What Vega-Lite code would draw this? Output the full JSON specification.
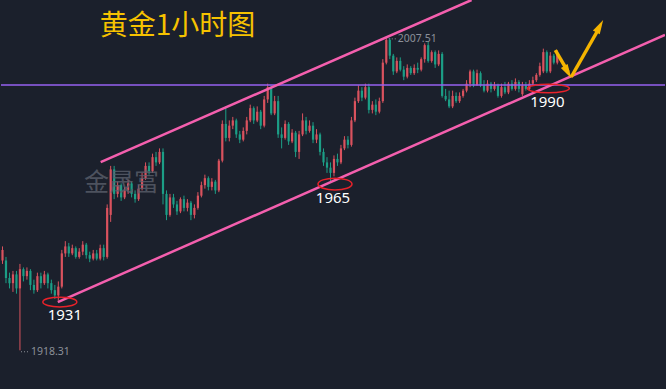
{
"$schema": "https://vega.github.io/schema/vega-lite/v6.json",
"width": 666, "height": 389,
"autosize": {"type": "fit", "contains": "padding"},
"padding": 0,
"background": "#1b202c",
"config": {"view": {"stroke": null}, "scale": {"continuousPadding": 0}},
"datasets": {
"candles": [
{"i":0,"o":1944,"h":1948,"l":1943,"c":1947},
{"i":1,"o":1944,"h":1945,"l":1937.5,"c":1939},
{"i":2,"o":1939,"h":1940.5,"l":1936,"c":1937.5},
{"i":3,"o":1937.5,"h":1941,"l":1935,"c":1940},
{"i":4,"o":1940,"h":1941,"l":1934.5,"c":1936},
{"i":5,"o":1936,"h":1943,"l":1918.31,"c":1941.5},
{"i":6,"o":1941.5,"h":1942,"l":1938,"c":1939.5},
{"i":7,"o":1939.5,"h":1942,"l":1938.5,"c":1941},
{"i":8,"o":1941,"h":1941.5,"l":1935.5,"c":1937},
{"i":9,"o":1937,"h":1938.5,"l":1934.5,"c":1935.5},
{"i":10,"o":1935.5,"h":1940.5,"l":1935,"c":1939.5},
{"i":11,"o":1939.5,"h":1940.5,"l":1936,"c":1937.5},
{"i":12,"o":1937.5,"h":1941,"l":1937,"c":1940},
{"i":13,"o":1940,"h":1940.5,"l":1936,"c":1937.5},
{"i":14,"o":1937.5,"h":1938.5,"l":1934.5,"c":1935.5},
{"i":15,"o":1935.5,"h":1937,"l":1933,"c":1934},
{"i":16,"o":1934,"h":1938,"l":1932.5,"c":1936.5},
{"i":17,"o":1936.5,"h":1947,"l":1936,"c":1946},
{"i":18,"o":1946,"h":1949.5,"l":1945,"c":1948},
{"i":19,"o":1948,"h":1949,"l":1945,"c":1946},
{"i":20,"o":1946,"h":1948.5,"l":1945.5,"c":1947.5},
{"i":21,"o":1947.5,"h":1948,"l":1944.5,"c":1945},
{"i":22,"o":1945,"h":1947.5,"l":1944.5,"c":1946.5},
{"i":23,"o":1946.5,"h":1949.5,"l":1945.5,"c":1948.5},
{"i":24,"o":1948.5,"h":1949,"l":1944.5,"c":1945.5},
{"i":25,"o":1945.5,"h":1946.5,"l":1943.5,"c":1944.5},
{"i":26,"o":1944.5,"h":1947,"l":1944,"c":1946},
{"i":27,"o":1946,"h":1947,"l":1944,"c":1944.5},
{"i":28,"o":1944.5,"h":1948.5,"l":1944,"c":1947.5},
{"i":29,"o":1947.5,"h":1948.5,"l":1944,"c":1945},
{"i":30,"o":1945,"h":1960,"l":1944.5,"c":1959},
{"i":31,"o":1957,"h":1971,"l":1955,"c":1970},
{"i":32,"o":1970,"h":1971,"l":1961.5,"c":1963},
{"i":33,"o":1963,"h":1966.5,"l":1962,"c":1965.5},
{"i":34,"o":1965.5,"h":1966,"l":1961,"c":1962},
{"i":35,"o":1962,"h":1965,"l":1961.5,"c":1964},
{"i":36,"o":1964,"h":1967,"l":1963,"c":1966},
{"i":37,"o":1966,"h":1966.5,"l":1962,"c":1963},
{"i":38,"o":1963,"h":1964,"l":1960.5,"c":1961.5},
{"i":39,"o":1961.5,"h":1965.5,"l":1961,"c":1964.5},
{"i":40,"o":1964.5,"h":1969,"l":1964,"c":1967.5},
{"i":41,"o":1967.5,"h":1972,"l":1967,"c":1971},
{"i":42,"o":1971,"h":1972,"l":1968.5,"c":1969.5},
{"i":43,"o":1969.5,"h":1974.5,"l":1969,"c":1973.5},
{"i":44,"o":1973.5,"h":1975,"l":1971,"c":1972},
{"i":45,"o":1972,"h":1976,"l":1971.5,"c":1975},
{"i":46,"o":1975,"h":1976,"l":1960,"c":1963},
{"i":47,"o":1963,"h":1964,"l":1955.5,"c":1957},
{"i":48,"o":1957,"h":1963,"l":1956.5,"c":1962},
{"i":49,"o":1962,"h":1963,"l":1959,"c":1960},
{"i":50,"o":1960,"h":1961,"l":1957,"c":1958},
{"i":51,"o":1958,"h":1962,"l":1957.5,"c":1961.5},
{"i":52,"o":1961.5,"h":1962.5,"l":1958,"c":1959},
{"i":53,"o":1959,"h":1961.5,"l":1958,"c":1960.5},
{"i":54,"o":1960.5,"h":1961,"l":1955.5,"c":1957},
{"i":55,"o":1957,"h":1960,"l":1956,"c":1959},
{"i":56,"o":1959,"h":1963.5,"l":1958.5,"c":1962.5},
{"i":57,"o":1962.5,"h":1966.5,"l":1962,"c":1965.5},
{"i":58,"o":1965.5,"h":1968.5,"l":1964.5,"c":1967.5},
{"i":59,"o":1967.5,"h":1968,"l":1964,"c":1965},
{"i":60,"o":1965,"h":1967.5,"l":1964,"c":1966.5},
{"i":61,"o":1966.5,"h":1967,"l":1963,"c":1964},
{"i":62,"o":1964,"h":1973,"l":1963.5,"c":1972.5},
{"i":63,"o":1972.5,"h":1984,"l":1972,"c":1983},
{"i":64,"o":1983,"h":1988,"l":1978,"c":1979},
{"i":65,"o":1979,"h":1984,"l":1978,"c":1982.5},
{"i":66,"o":1982.5,"h":1985,"l":1981.5,"c":1984},
{"i":67,"o":1984,"h":1984.5,"l":1979,"c":1980},
{"i":68,"o":1980,"h":1981,"l":1977.5,"c":1978.5},
{"i":69,"o":1978.5,"h":1982,"l":1978,"c":1981},
{"i":70,"o":1981,"h":1985,"l":1980,"c":1984},
{"i":71,"o":1984,"h":1988.5,"l":1983.5,"c":1987.5},
{"i":72,"o":1987.5,"h":1988,"l":1983,"c":1984},
{"i":73,"o":1984,"h":1988,"l":1983.5,"c":1986.5},
{"i":74,"o":1986.5,"h":1987,"l":1981.5,"c":1982.5},
{"i":75,"o":1982.5,"h":1991,"l":1982,"c":1990},
{"i":76,"o":1990,"h":1994.5,"l":1989,"c":1993.5},
{"i":77,"o":1993.5,"h":1994,"l":1985.5,"c":1986},
{"i":78,"o":1986,"h":1991,"l":1985.5,"c":1989.5},
{"i":79,"o":1989.5,"h":1991,"l":1979,"c":1980},
{"i":80,"o":1980,"h":1982,"l":1976,"c":1979},
{"i":81,"o":1979,"h":1984,"l":1978.5,"c":1983},
{"i":82,"o":1983,"h":1983.5,"l":1977,"c":1978},
{"i":83,"o":1978,"h":1981.5,"l":1977.5,"c":1980.5},
{"i":84,"o":1980.5,"h":1981,"l":1973.5,"c":1975},
{"i":85,"o":1975,"h":1981,"l":1973,"c":1980},
{"i":86,"o":1980,"h":1986,"l":1979.5,"c":1984},
{"i":87,"o":1984,"h":1985,"l":1980,"c":1981},
{"i":88,"o":1981,"h":1984,"l":1980.5,"c":1982.5},
{"i":89,"o":1982.5,"h":1983.5,"l":1977.5,"c":1978.5},
{"i":90,"o":1978.5,"h":1981.5,"l":1977.5,"c":1980},
{"i":91,"o":1980,"h":1980.5,"l":1974,"c":1975},
{"i":92,"o":1975,"h":1976,"l":1971,"c":1972},
{"i":93,"o":1972,"h":1973.5,"l":1969,"c":1970.5},
{"i":94,"o":1970.5,"h":1972,"l":1966.5,"c":1969},
{"i":95,"o":1969,"h":1974,"l":1968,"c":1973},
{"i":96,"o":1973,"h":1974.5,"l":1971,"c":1972},
{"i":97,"o":1972,"h":1977,"l":1971.5,"c":1976},
{"i":98,"o":1976,"h":1979.5,"l":1975.5,"c":1978.5},
{"i":99,"o":1978.5,"h":1979.5,"l":1976,"c":1977},
{"i":100,"o":1977,"h":1985,"l":1976.5,"c":1984},
{"i":101,"o":1984,"h":1990.5,"l":1983.5,"c":1989.5},
{"i":102,"o":1989.5,"h":1994,"l":1989,"c":1992.5},
{"i":103,"o":1992.5,"h":1993.5,"l":1989.5,"c":1990.5},
{"i":104,"o":1990.5,"h":1994.5,"l":1990,"c":1993.5},
{"i":105,"o":1993.5,"h":1994.5,"l":1986,"c":1987},
{"i":106,"o":1987,"h":1989.5,"l":1986,"c":1988.5},
{"i":107,"o":1988.5,"h":1990,"l":1985.5,"c":1986.5},
{"i":108,"o":1986.5,"h":1990.5,"l":1986,"c":1989.5},
{"i":109,"o":1989.5,"h":2001.5,"l":1989,"c":2000.5},
{"i":110,"o":2000.5,"h":2007.51,"l":2000,"c":2007},
{"i":111,"o":2007,"h":2007.5,"l":2001.5,"c":2002.5},
{"i":112,"o":2002.5,"h":2003,"l":1997,"c":1998},
{"i":113,"o":1998,"h":2002,"l":1997.5,"c":2001},
{"i":114,"o":2001,"h":2002,"l":1998,"c":1998.5},
{"i":115,"o":1998.5,"h":1999.5,"l":1995.5,"c":1996.5},
{"i":116,"o":1996.5,"h":2000,"l":1996,"c":1999},
{"i":117,"o":1999,"h":1999.5,"l":1997,"c":1997.5},
{"i":118,"o":1997.5,"h":2000,"l":1997,"c":1999},
{"i":119,"o":1999,"h":2000.5,"l":1997.5,"c":1998.5},
{"i":120,"o":1998.5,"h":2002,"l":1998,"c":2001.5},
{"i":121,"o":2001.5,"h":2006,"l":2000.5,"c":2005.5},
{"i":122,"o":2005.5,"h":2006.4,"l":2000.5,"c":2001},
{"i":123,"o":2001,"h":2004,"l":2000.5,"c":2003.5},
{"i":124,"o":2003.5,"h":2004,"l":1999,"c":2000},
{"i":125,"o":2000,"h":2004,"l":1999.5,"c":2003},
{"i":126,"o":2003,"h":2003.5,"l":1990.5,"c":1991},
{"i":127,"o":1991,"h":1993,"l":1989.5,"c":1990},
{"i":128,"o":1990,"h":1992.5,"l":1987.5,"c":1988},
{"i":129,"o":1988,"h":1992.5,"l":1987.5,"c":1991},
{"i":130,"o":1991,"h":1992,"l":1989,"c":1989.5},
{"i":131,"o":1989.5,"h":1992,"l":1989,"c":1991},
{"i":132,"o":1991,"h":1993,"l":1990.5,"c":1992.5},
{"i":133,"o":1992.5,"h":1995.5,"l":1992,"c":1994.5},
{"i":134,"o":1994.5,"h":1998.5,"l":1993.5,"c":1998},
{"i":135,"o":1998,"h":1998.5,"l":1993.5,"c":1994},
{"i":136,"o":1994,"h":1998.5,"l":1994,"c":1997.5},
{"i":137,"o":1997.5,"h":1998,"l":1993.5,"c":1994},
{"i":138,"o":1994,"h":1995.5,"l":1992,"c":1992.5},
{"i":139,"o":1992.5,"h":1995.5,"l":1992,"c":1994.5},
{"i":140,"o":1994.5,"h":1995,"l":1992,"c":1993},
{"i":141,"o":1993,"h":1995,"l":1992.5,"c":1994},
{"i":142,"o":1994,"h":1994.5,"l":1990.5,"c":1991},
{"i":143,"o":1991,"h":1994.5,"l":1990.5,"c":1993.5},
{"i":144,"o":1993.5,"h":1995,"l":1991.5,"c":1992},
{"i":145,"o":1992,"h":1995,"l":1991.5,"c":1994.5},
{"i":146,"o":1994.5,"h":1995.5,"l":1992.5,"c":1993},
{"i":147,"o":1993,"h":1996,"l":1992.5,"c":1995},
{"i":148,"o":1995,"h":1995.5,"l":1992,"c":1993},
{"i":149,"o":1991.5,"h":1995,"l":1991,"c":1994},
{"i":150,"o":1994,"h":1995,"l":1992.5,"c":1993},
{"i":151,"o":1993,"h":1995.5,"l":1992.5,"c":1994.5},
{"i":152,"o":1994.5,"h":1996.5,"l":1994,"c":1995.5},
{"i":153,"o":1995.5,"h":1997.5,"l":1995,"c":1997},
{"i":154,"o":1997,"h":2000.5,"l":1996.5,"c":1999.5},
{"i":155,"o":1998,"h":2004.5,"l":1997.5,"c":2003.5},
{"i":156,"o":2003.5,"h":2004,"l":1997.5,"c":1998},
{"i":157,"o":1998,"h":2003.5,"l":1997.5,"c":2002.5},
{"i":158,"o":2002.5,"h":2003,"l":2000,"c":2000.5},
{"i":159,"o":2000.5,"h":2004,"l":2000,"c":2003}
],
"channels": [
{"x":28.14,"p":1972.1,"x2":134.43,"p2":2018.4},
{"x":15.86,"p":1932.1,"x2":189.86,"p2":2008.4}
],
"arrows": [
{"x":158.43,"p":2004.1,"x2":162.14,"p2":1997.8},
{"x":162.99,"p":1996.4,"x2":171.0,"p2":2010.4}
],
"labels": [
{"x":17.86,"p":1928.4,"t":"1931"},
{"x":94.71,"p":1961.8,"t":"1965"},
{"x":156.14,"p":1989.3,"t":"1990"}
],
"prices": [
{"x":113.29,"p":2007.3,"t":"2007.51","dx0":110.7,"dx1":112.9},
{"x":8.14,"p":1917.9,"t":"1918.31","dx0":5.3,"dx1":7.7}
]
},
"layer": [
{"data": {"name": "candles"},
 "mark": {"type": "rule", "strokeWidth": 1},
 "encoding": {
  "x": {"field": "i", "type": "quantitative", "scale": {"domain": [-0.43, 189.87], "nice": false, "zero": false, "padding": 0}, "axis": null},
  "y": {"field": "l", "type": "quantitative", "scale": {"domain": [1907.26, 2018.4], "nice": false, "zero": false, "padding": 0}, "axis": null},
  "y2": {"field": "h"},
  "color": {"condition": {"test": "datum.c >= datum.o", "value": "#d9525e"}, "value": "#1c9e86"}
 }},
{"data": {"name": "candles"},
 "mark": {"type": "bar", "width": 2.2},
 "encoding": {
  "x": {"field": "i", "type": "quantitative", "scale": {"domain": [-0.43, 189.87], "nice": false, "zero": false, "padding": 0}, "axis": null},
  "y": {"field": "o", "type": "quantitative", "scale": {"domain": [1907.26, 2018.4], "nice": false, "zero": false, "padding": 0}, "axis": null},
  "y2": {"field": "c"},
  "color": {"condition": {"test": "datum.c >= datum.o", "value": "#d9525e"}, "value": "#1c9e86"}
 }},
{"data": {"values": [{"p": 1994.1}]},
 "mark": {"type": "rule", "color": "#9760f0", "strokeWidth": 1.5},
 "encoding": {
  "y": {"field": "p", "type": "quantitative", "scale": {"domain": [1907.26, 2018.4], "nice": false, "zero": false, "padding": 0}, "axis": null}
 }},
{"data": {"name": "channels"},
 "mark": {"type": "rule", "color": "#f45fae", "strokeWidth": 2.5, "clip": true},
 "encoding": {
  "x": {"field": "x", "type": "quantitative", "scale": {"domain": [-0.43, 189.87], "nice": false, "zero": false, "padding": 0}, "axis": null},
  "y": {"field": "p", "type": "quantitative", "scale": {"domain": [1907.26, 2018.4], "nice": false, "zero": false, "padding": 0}, "axis": null},
  "x2": {"field": "x2"},
  "y2": {"field": "p2"}
 }},
{"data": {"name": "arrows"},
 "mark": {"type": "rule", "color": "#f5b400", "strokeWidth": 3.5},
 "encoding": {
  "x": {"field": "x", "type": "quantitative", "scale": {"domain": [-0.43, 189.87], "nice": false, "zero": false, "padding": 0}, "axis": null},
  "y": {"field": "p", "type": "quantitative", "scale": {"domain": [1907.26, 2018.4], "nice": false, "zero": false, "padding": 0}, "axis": null},
  "x2": {"field": "x2"},
  "y2": {"field": "p2"}
 }},
{"data": {"values": [{"x": 162.0, "p": 1997.8, "a": 150}, {"x": 171.17, "p": 2010.9, "a": 29}]},
 "mark": {"type": "point", "shape": "M 0 -1 L 0.55 1 L -0.55 1 Z", "filled": true, "color": "#f5b400", "opacity": 1, "size": 200},
 "encoding": {
  "x": {"field": "x", "type": "quantitative", "scale": {"domain": [-0.43, 189.87], "nice": false, "zero": false, "padding": 0}, "axis": null},
  "y": {"field": "p", "type": "quantitative", "scale": {"domain": [1907.26, 2018.4], "nice": false, "zero": false, "padding": 0}, "axis": null},
  "angle": {"field": "a", "type": "quantitative", "scale": null}
 }},
{"data": {"values": [{"x": 16.43, "p": 1932.1}]},
 "mark": {"type": "point", "shape": "M -1 0 A 1 0.29 0 1 0 1 0 A 1 0.29 0 1 0 -1 0 Z", "filled": false, "color": "#e8222a", "strokeWidth": 1.5, "opacity": 1, "size": 1156},
 "encoding": {
  "x": {"field": "x", "type": "quantitative", "scale": {"domain": [-0.43, 189.87], "nice": false, "zero": false, "padding": 0}, "axis": null},
  "y": {"field": "p", "type": "quantitative", "scale": {"domain": [1907.26, 2018.4], "nice": false, "zero": false, "padding": 0}, "axis": null}
 }},
{"data": {"values": [{"x": 95.29, "p": 1965.8}]},
 "mark": {"type": "point", "shape": "M -1 0 A 1 0.35 0 1 0 1 0 A 1 0.35 0 1 0 -1 0 Z", "filled": false, "color": "#e8222a", "strokeWidth": 1.5, "opacity": 1, "size": 1156},
 "encoding": {
  "x": {"field": "x", "type": "quantitative", "scale": {"domain": [-0.43, 189.87], "nice": false, "zero": false, "padding": 0}, "axis": null},
  "y": {"field": "p", "type": "quantitative", "scale": {"domain": [1907.26, 2018.4], "nice": false, "zero": false, "padding": 0}, "axis": null}
 }},
{"data": {"values": [{"x": 156.43, "p": 1993.1}]},
 "mark": {"type": "point", "shape": "M -1 0 A 1 0.2 0 1 0 1 0 A 1 0.2 0 1 0 -1 0 Z", "filled": false, "color": "#e8222a", "strokeWidth": 1.5, "opacity": 1, "size": 1764},
 "encoding": {
  "x": {"field": "x", "type": "quantitative", "scale": {"domain": [-0.43, 189.87], "nice": false, "zero": false, "padding": 0}, "axis": null},
  "y": {"field": "p", "type": "quantitative", "scale": {"domain": [1907.26, 2018.4], "nice": false, "zero": false, "padding": 0}, "axis": null}
 }},
{"data": {"name": "labels"},
 "mark": {"type": "text", "color": "#ffffff", "fontSize": 15, "font": "Noto Sans", "align": "center", "baseline": "middle"},
 "encoding": {
  "x": {"field": "x", "type": "quantitative", "scale": {"domain": [-0.43, 189.87], "nice": false, "zero": false, "padding": 0}, "axis": null},
  "y": {"field": "p", "type": "quantitative", "scale": {"domain": [1907.26, 2018.4], "nice": false, "zero": false, "padding": 0}, "axis": null},
  "text": {"field": "t"}
 }},
{"data": {"name": "prices"},
 "mark": {"type": "rule", "color": "#8c9099", "strokeWidth": 1, "strokeDash": [1, 2]},
 "encoding": {
  "x": {"field": "dx0", "type": "quantitative", "scale": {"domain": [-0.43, 189.87], "nice": false, "zero": false, "padding": 0}, "axis": null},
  "x2": {"field": "dx1"},
  "y": {"field": "p", "type": "quantitative", "scale": {"domain": [1907.26, 2018.4], "nice": false, "zero": false, "padding": 0}, "axis": null}
 }},
{"data": {"name": "prices"},
 "mark": {"type": "text", "color": "#8c9099", "fontSize": 10.5, "font": "Noto Sans", "align": "left", "baseline": "middle"},
 "encoding": {
  "x": {"field": "x", "type": "quantitative", "scale": {"domain": [-0.43, 189.87], "nice": false, "zero": false, "padding": 0}, "axis": null},
  "y": {"field": "p", "type": "quantitative", "scale": {"domain": [1907.26, 2018.4], "nice": false, "zero": false, "padding": 0}, "axis": null},
  "text": {"field": "t"}
 }},
{"data": {"values": [{"x": 34.14, "p": 1966.1, "t": "金晟富"}]},
 "mark": {"type": "text", "color": "#5a5f6b", "opacity": 0.8, "fontSize": 25, "font": "Noto Sans CJK SC", "align": "center", "baseline": "middle"},
 "encoding": {
  "x": {"field": "x", "type": "quantitative", "scale": {"domain": [-0.43, 189.87], "nice": false, "zero": false, "padding": 0}, "axis": null},
  "y": {"field": "p", "type": "quantitative", "scale": {"domain": [1907.26, 2018.4], "nice": false, "zero": false, "padding": 0}, "axis": null},
  "text": {"field": "t"}
 }},
{"data": {"values": [{"x": 50.14, "p": 2010.7, "t": "黄金1小时图"}]},
 "mark": {"type": "text", "color": "#f6c200", "fontSize": 28, "font": "Noto Sans CJK SC", "align": "center", "baseline": "middle"},
 "encoding": {
  "x": {"field": "x", "type": "quantitative", "scale": {"domain": [-0.43, 189.87], "nice": false, "zero": false, "padding": 0}, "axis": null},
  "y": {"field": "p", "type": "quantitative", "scale": {"domain": [1907.26, 2018.4], "nice": false, "zero": false, "padding": 0}, "axis": null},
  "text": {"field": "t"}
 }}
]
}
